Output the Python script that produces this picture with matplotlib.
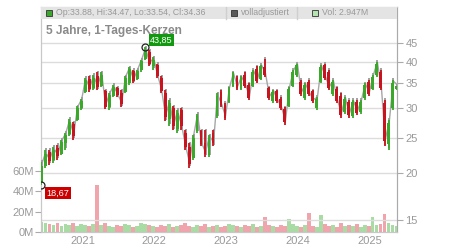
import matplotlib
matplotlib.use("Agg")
import matplotlib.pyplot as plt
import matplotlib.dates as mdates
import matplotlib.transforms as mtransforms
from matplotlib.patches import Rectangle
from matplotlib.ticker import FixedLocator, NullLocator
import pandas as pd
import numpy as np

plt.rcParams['font.family'] = ['Liberation Sans', 'DejaVu Sans']

tief = [18.67, 20.7, 21.1, 21.4, 21.8, 22.5, 23.2, 25.2, 24.7, 27.7,
        29.6, 32.9, 33.2, 33.6, 33.6, 34.2, 29.9, 29.7, 32.1, 32.1,
        30.2, 33.0, 34.7, 35.1, 35.8, 37.7, 40.5, 38.9, 38.1, 36.2,
        33.0, 27.7, 26.9, 26.2, 25.8, 26.2, 23.2, 20.7, 21.8, 25.8,
        23.7, 22.2, 22.2, 23.7, 28.3, 30.2, 27.9, 31.0, 34.2, 33.6,
        33.6, 34.0, 31.6, 34.2, 35.1, 35.8, 36.4, 31.6, 31.0, 31.0,
        29.7, 27.1, 30.2, 34.2, 36.4, 32.4, 31.6, 32.4, 31.0, 29.7,
        35.1, 35.8, 33.6, 32.4, 31.0, 28.3, 29.0, 28.3, 28.3, 28.8,
        29.0, 31.6, 32.4, 33.6, 36.4, 33.6, 23.7, 23.2, 29.7, 33.54]
hoch = [21.5, 23.2, 23.2, 23.6, 23.9, 24.7, 25.8, 28.1, 27.5, 30.4,
        31.8, 36.3, 36.6, 36.9, 37.5, 37.5, 33.6, 33.0, 34.7, 34.2,
        33.6, 36.6, 38.7, 38.1, 38.1, 40.5, 43.85, 43.0, 41.2, 39.6,
        36.6, 33.6, 31.6, 30.4, 29.7, 30.0, 26.2, 24.1, 25.4, 29.0,
        26.2, 26.2, 25.4, 26.2, 32.9, 33.6, 31.0, 34.2, 37.5, 36.6,
        36.6, 37.5, 35.1, 38.1, 38.9, 39.3, 40.8, 34.2, 33.6, 33.6,
        32.2, 30.2, 34.2, 38.1, 39.6, 35.8, 35.1, 35.8, 33.6, 32.2,
        39.3, 39.6, 38.1, 35.8, 34.2, 32.9, 32.2, 31.6, 31.6, 31.6,
        31.6, 35.1, 35.8, 36.9, 40.0, 38.1, 31.6, 27.9, 35.8, 34.47]
eroeffnung = [19.0, 21.0, 22.8, 21.7, 23.4, 22.6, 24.2, 25.6, 27.2, 27.9,
              30.1, 33.2, 36.0, 34.0, 36.6, 34.5, 33.3, 30.2, 32.4, 34.0,
              33.0, 33.2, 35.0, 37.8, 35.9, 38.0, 40.8, 42.6, 39.0, 39.2,
              36.2, 33.0, 28.0, 30.0, 26.4, 29.6, 25.8, 23.6, 22.0, 26.0,
              26.0, 24.2, 22.5, 25.8, 28.6, 33.2, 30.6, 31.2, 34.5, 36.2,
              34.0, 36.9, 34.6, 34.5, 38.4, 36.0, 38.8, 34.0, 31.4, 33.3,
              31.8, 29.8, 30.5, 34.5, 37.0, 35.4, 32.0, 35.4, 33.3, 30.0,
              35.4, 39.2, 37.6, 32.8, 33.8, 32.4, 29.3, 31.2, 28.6, 31.2,
              29.3, 31.9, 35.4, 33.9, 36.8, 37.6, 31.0, 24.0, 30.0, 33.88]
schluss = [21.0, 22.6, 21.6, 23.2, 22.3, 24.3, 25.4, 27.6, 25.3, 30.0,
           31.4, 35.8, 33.8, 36.3, 34.2, 37.0, 30.3, 32.6, 34.2, 32.5,
           30.8, 36.2, 38.2, 35.6, 37.8, 40.2, 43.2, 39.4, 40.6, 36.6,
           33.4, 28.4, 31.0, 26.8, 29.2, 26.8, 23.6, 21.2, 25.0, 28.6,
           24.0, 22.6, 25.0, 24.1, 32.4, 30.6, 28.3, 33.8, 37.0, 34.0,
           36.2, 34.5, 32.0, 37.6, 35.6, 38.9, 37.0, 32.0, 33.2, 31.4,
           30.0, 27.5, 33.8, 37.6, 39.2, 32.8, 34.6, 32.8, 31.4, 31.8,
           38.8, 36.2, 34.0, 35.3, 31.4, 28.8, 31.8, 28.7, 31.2, 29.2,
           31.2, 34.6, 32.8, 36.5, 39.6, 34.0, 24.5, 27.4, 35.2, 34.36]
# Volumen in Mio.
volumen = [10, 9, 8, 7, 9, 6, 8, 7, 9, 6,
           8, 7, 6, 8, 46, 7, 9, 6, 5, 7,
           6, 8, 7, 5, 6, 9, 8, 7, 6, 5,
           7, 6, 8, 5, 6, 7, 9, 6, 5, 7,
           6, 8, 5, 6, 7, 5, 6, 8, 7, 6,
           5, 7, 6, 8, 5, 6, 15, 7, 6, 5,
           7, 6, 13, 8, 6, 5, 7, 19, 6, 5,
           17, 8, 6, 7, 5, 9, 6, 7, 6, 8,
           5, 7, 6, 15, 7, 8, 18, 9, 7, 6]

start, ende = "2020-06-05", "2025-05-21"
daten = mdates.date2num(pd.date_range(start, ende, periods=len(schluss)))

preis_ticks = [15, 20, 25, 30, 35, 40, 45]
vol_ticks = [0, 20, 40, 60]
jahre = [2021, 2022, 2023, 2024, 2025]

tief = np.array(tief)
hoch = np.array(hoch)
eroeffnung = np.array(eroeffnung)
schluss = np.array(schluss)
volumen = np.array(volumen)
steigt = schluss >= eroeffnung

gruen = '#3aa82a'
rot = '#c8141e'

fig = plt.figure(figsize=(4.5, 2.5), dpi=100)
ax = fig.add_axes([41 / 450, 18 / 250, 356 / 450, 225 / 250])
ax2 = ax.twinx()

# Volumen (linke Achse)
ax.bar(daten, volumen * 1e6, width=17,
       color=np.where(steigt, '#a8dca4', '#f0a4ac'), linewidth=0, zorder=2)
ax.set_ylim(0, 222e6)
ax.yaxis.set_major_locator(FixedLocator([v * 1e6 for v in vol_ticks]))
ax.set_yticklabels([f"{v}M" for v in vol_ticks])
ax.set_xlim(mdates.date2num(pd.Timestamp(start)) - 1, mdates.date2num(pd.Timestamp(ende)) + 1)

# Kurs (rechte Achse, log)
ax2.set_yscale('log')
ax2.set_ylim(13.9, 56.3)
ax2.yaxis.set_major_locator(FixedLocator(preis_ticks))
ax2.yaxis.set_minor_locator(NullLocator())
ax2.set_yticklabels([str(t) for t in preis_ticks])

ax2.xaxis.set_major_locator(FixedLocator([mdates.date2num(pd.Timestamp(f"{j}-01-01")) for j in jahre]))
ax.set_xticks([mdates.date2num(pd.Timestamp(f"{j}-01-01")) for j in jahre])
ax.set_xticklabels([str(j) for j in jahre])

ax2.grid(True, color='#dcdcdc', linewidth=1, zorder=0)
ax2.set_axisbelow(True)

# volladjustiert (grau, leicht versetzt)
schatten = mtransforms.offset_copy(ax2.transData, fig=fig, x=0.5, y=1.5, units='dots')
ax2.plot(daten, schluss, color='#a6a6a6', linewidth=1.0, transform=schatten, zorder=3)
farben = np.where(steigt, gruen, rot)
ax2.vlines(daten, tief, hoch, colors='#9a9a9a', linewidth=1.3, transform=schatten, zorder=3)
ax2.vlines(daten, tief, hoch, colors=farben, linewidth=1.3, zorder=4)
ax2.bar(daten, schluss - eroeffnung, bottom=eroeffnung, width=15,
        color=farben, linewidth=0, zorder=4)

# Hoch / Tief Markierung
i_max = int(np.argmax(hoch))
i_min = int(np.argmin(tief))
ax2.plot(daten[i_max], hoch[i_max], 'o', mfc='none', mec='#222', ms=5, mew=0.9, zorder=6)
ax2.plot(daten[i_min], tief[i_min], 'o', mfc='none', mec='#222', ms=5, mew=0.9, zorder=6)
ax2.annotate(f"{hoch[i_max]:.2f}".replace('.', ','), (daten[i_max], hoch[i_max]),
             xytext=(3.5, 3.5), textcoords='offset points', fontsize=6.6, color='white',
             bbox=dict(boxstyle='square,pad=0.15', fc='#12990f', ec='none'), zorder=7)
ax2.annotate(f"{tief[i_min]:.2f}".replace('.', ','), (daten[i_min], tief[i_min]),
             xytext=(4, -8), textcoords='offset points', fontsize=6.6, color='white',
             bbox=dict(boxstyle='square,pad=0.15', fc='#cc0000', ec='none'), zorder=7)

# Legendenleiste oben
ax2.add_patch(Rectangle((0, 0.947), 1, 0.053, transform=ax2.transAxes,
                        facecolor='#e4e4e4', edgecolor='none', zorder=5))
for xs in [0.520, 0.719]:
    ax2.plot([xs, xs], [0.947, 1], color='#cfcfcf', lw=1, transform=ax2.transAxes, zorder=5)
legende = [(0.0225, gruen, "Op:33.88, Hi:34.47, Lo:33.54, Cl:34.36"),
           (0.542, '#5a5a5a', "volladjustiert"),
           (0.770, '#b4e4b0', "Vol: 2.947M")]
for xs, farbe, txt in legende:
    ax2.add_patch(Rectangle((xs - 0.008, 0.96), 0.016, 0.027, transform=ax2.transAxes,
                            facecolor=farbe, edgecolor='#333', lw=0.6, zorder=6))
    ax2.text(xs + 0.02, 0.9735, txt, transform=ax2.transAxes, fontsize=6.3,
             color='#999', va='center', ha='left', zorder=6)
ax2.text(0.014, 0.892, "5 Jahre, 1-Tages-Kerzen", transform=ax2.transAxes,
         fontsize=8.6, fontweight='bold', color='#8a8a8a', va='center', ha='left', zorder=6)

for a in (ax, ax2):
    for s in a.spines.values():
        s.set_color('#c8c8c8')
ax2.spines['right'].set_color('#aaaaaa')
ax.tick_params(axis='y', colors='#aaaaaa', labelcolor='#999999', labelsize=8, length=4, pad=1)
ax2.tick_params(axis='y', colors='#aaaaaa', labelcolor='#999999', labelsize=8, length=4, pad=2)
ax.tick_params(axis='x', colors='#cccccc', labelcolor='#999999', labelsize=8, length=0, pad=3)
ax2.tick_params(axis='x', length=0, labelbottom=False)

fig.savefig("out.png", dpi=100)
